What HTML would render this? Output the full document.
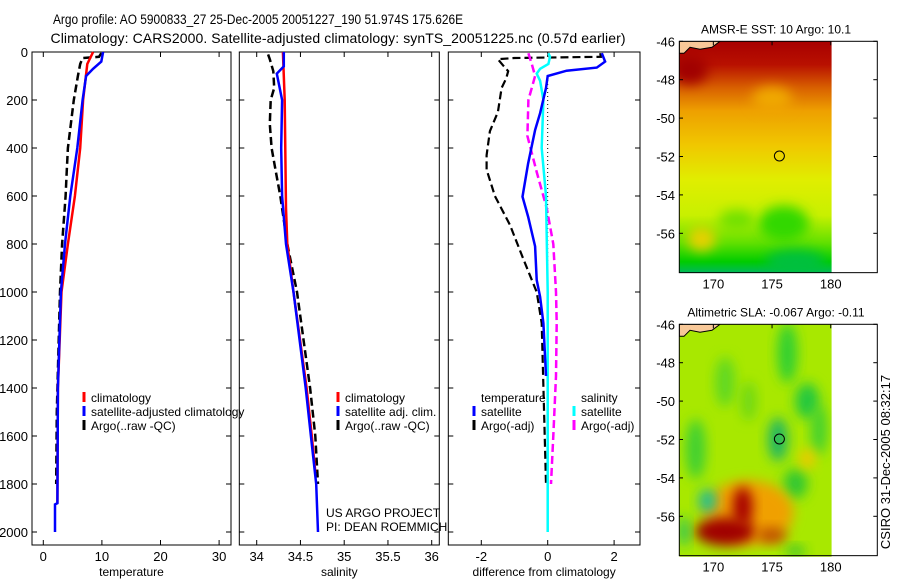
<!DOCTYPE html>
<html><head><meta charset="utf-8"><style>
body{margin:0;background:#fff}
svg{display:block;font-family:"Liberation Sans",sans-serif}
</style></head><body>
<svg id="c" width="900" height="580" viewBox="0 0 900 580">
<defs>
<filter id="bl" x="-50%" y="-50%" width="200%" height="200%"><feGaussianBlur stdDeviation="6"/></filter>
<linearGradient id="sstg" x1="0" y1="0" x2="0" y2="1">
<stop offset="0" stop-color="#a80000"/><stop offset="0.1" stop-color="#b81000"/><stop offset="0.2" stop-color="#d86000"/>
<stop offset="0.3" stop-color="#eea000"/><stop offset="0.45" stop-color="#f0c800"/><stop offset="0.6" stop-color="#e0ee00"/>
<stop offset="0.75" stop-color="#c8f000"/><stop offset="0.87" stop-color="#60e000"/><stop offset="0.95" stop-color="#00cc00"/><stop offset="1" stop-color="#00b860"/>
</linearGradient>
<clipPath id="m1"><rect x="679.3" y="41.3" width="152.4" height="231.4"/></clipPath>
<clipPath id="m2"><rect x="679.3" y="324.3" width="152.4" height="232.4"/></clipPath>
</defs>
<text x="53" y="24" font-size="13.5" lengthAdjust="spacingAndGlyphs" textLength="410">Argo profile: AO 5900833_27 25-Dec-2005 20051227_190 51.974S 175.626E</text>
<text x="338" y="43" font-size="14" text-anchor="middle" textLength="575">Climatology: CARS2000. Satellite-adjusted climatology: synTS_20051225.nc (0.57d earlier)</text>
<g id="g"></g>
</svg>
<script>
// ---- data ----
const depthTicks=[0,200,400,600,800,1000,1200,1400,1600,1800,2000];
const tTicks=[0,10,20,30];
const sTicks=[34,34.5,35,35.5,36];
const dTicks=[-2,0,2];
const climTdep=[0,50,200,400,600,800,1000,1400,1880];
const climT=[8.5,7.5,6.8,6.3,5.4,4.2,3.1,2.5,2.4];
const satTdep=[0,40,70,100,200,400,600,800,1000,1400,1880,1885,2000];
const satT=[10.2,9.9,8.5,7.3,6.7,5.8,4.6,3.7,3.0,2.5,2.4,2.0,2.0];
const argoTdep=[5,20,25,50,100,200,400,500,600,800,1000,1500,1800];
const argoT=[9.9,9.5,6.7,6.3,5.9,5.2,4.2,4.0,3.8,3.2,2.85,2.3,2.2];
const climSdep=[0,200,650,800,1000,1400,1600,1750];
const climS=[34.30,34.32,34.335,34.35,34.42,34.57,34.63,34.67];
const satSdep=[0,60,90,200,400,600,800,1000,1400,1600,1800,2000];
const satS=[34.31,34.31,34.23,34.29,34.28,34.29,34.335,34.42,34.56,34.62,34.68,34.70];
const argoSdep=[10,30,80,150,200,300,400,500,600,800,1000,1400,1600,1800];
const argoS=[34.13,34.15,34.19,34.20,34.16,34.15,34.17,34.22,34.27,34.35,34.46,34.61,34.67,34.70];
const dTsatDep=[5,40,65,78,100,150,255,325,465,603,686,810,950,1020,1130,1350];
const dTsat=[1.63,1.73,1.48,0.57,0.0,-0.05,-0.23,-0.38,-0.59,-0.76,-0.59,-0.38,-0.33,-0.23,-0.13,-0.05];
const dTargoDep=[5,20,25,30,55,80,110,150,250,330,430,490,600,720,860,1000,1130,1800];
const dTargo=[1.58,1.6,-1.0,-1.5,-1.35,-1.19,-1.25,-1.39,-1.5,-1.74,-1.84,-1.84,-1.59,-1.14,-0.74,-0.33,-0.18,-0.05];
const dSsatDep=[5,20,50,70,90,120,200,400,600,1000,2000];
const dSsat=[0.02,0.07,0.02,-0.23,-0.33,-0.23,-0.13,-0.18,-0.05,0.0,0.0];
const dSargoDep=[5,50,100,200,350,500,650,800,1000,1130,1350,1600,1800];
const dSargo=[-0.58,-0.48,-0.38,-0.58,-0.61,-0.33,-0.03,0.17,0.25,0.27,0.25,0.17,0.1];
const latTicks=[-46,-48,-50,-52,-54,-56];
const lonTicks=[170,175,180];
const floatLon=175.626, floatLat=-51.974;

const NS='http://www.w3.org/2000/svg';
const g=document.getElementById('g');
function el(t,a,p){const e=document.createElementNS(NS,t);for(const k in a)e.setAttribute(k,a[k]);(p||g).appendChild(e);return e;}
const Y=d=>52+d*0.24;
const panels=[
 {l:32,r:231,x:v=>43.3+v*5.86,ticks:tTicks,lab:'temperature',name:'temperature'},
 {l:239.3,r:439.3,x:v=>256.7+(v-34)*87.5,ticks:sTicks,lab:'salinity',name:'salinity'},
 {l:448.3,r:640,x:v=>547.7+v*33.2,ticks:dTicks,lab:'difference from climatology',name:'difference'}];
panels.forEach((p,i)=>{
  const f=el('rect',{x:p.l,y:52,width:p.r-p.l,height:493,fill:'none',stroke:'#000','stroke-width':1});
  
  
  depthTicks.forEach(d=>{
    el('line',{x1:p.l,x2:p.l+5,y1:Y(d),y2:Y(d),stroke:'#000'});
    el('line',{x1:p.r,x2:p.r-5,y1:Y(d),y2:Y(d),stroke:'#000'});
    if(i==0){const t=el('text',{x:28,y:Y(d)+5,'font-size':13,'text-anchor':'end'});t.textContent=d;
      
      }
  });
  p.ticks.forEach(v=>{
    const x=p.x(v);
    el('line',{x1:x,x2:x,y1:52,y2:57,stroke:'#000'});
    el('line',{x1:x,x2:x,y1:545,y2:540,stroke:'#000'});
    const t=el('text',{x:x,y:561,'font-size':13,'text-anchor':'middle'});t.textContent=v;
    
    
  });
  const t=el('text',{x:(p.l+p.r)/2,y:576,'font-size':12,'text-anchor':'middle'});t.textContent=p.lab;
  
  
});
function line(p,vals,deps,col,dash,w,name){
  const pts=vals.map((v,k)=>p.x(v).toFixed(1)+','+Y(deps[k]).toFixed(1)).join(' ');
  const e=el('polyline',{points:pts,fill:'none',stroke:col,'stroke-width':w||2.5,'stroke-dasharray':dash||'none'});
  
  
}
const P=panels;
line(P[0],argoT,argoTdep,'#000','8,4',2.5,'argo-temperature-line');
line(P[0],climT,climTdep,'#f00',null,2.5,'climatology-temperature-line');
line(P[0],satT,satTdep,'#00f',null,2.5,'satellite-temperature-line');
line(P[1],argoS,argoSdep,'#000','8,4',2.5,'argo-salinity-line');
line(P[1],climS,climSdep,'#f00',null,2.5,'climatology-salinity-line');
line(P[1],satS,satSdep,'#00f',null,2.5,'satellite-salinity-line');
el('line',{x1:P[2].x(0),x2:P[2].x(0),y1:Y(100),y2:Y(1800),stroke:'#000','stroke-dasharray':'1,3'});
line(P[2],dTargo,dTargoDep,'#000','8,4',2.2,'argo-temp-diff-line');
line(P[2],dSargo,dSargoDep,'#f0f','8,4',2.5,'argo-sal-diff-line');
line(P[2],dSsat,dSsatDep,'#0ff',null,2.5,'satellite-sal-diff-line');
line(P[2],dTsat,dTsatDep,'#00f',null,2.5,'satellite-temp-diff-line');
function leg(x,y,col,txt,name){
  if(col) el('line',{x1:x,x2:x,y1:y-10,y2:y,stroke:col,'stroke-width':3});
  const t=el('text',{x:x+7,y:y,'font-size':12});t.textContent=txt;
  
  
}
leg(84,402,'#f00','climatology','legend-climatology');
leg(84,416,'#00f','satellite-adjusted climatology','legend-satellite-adjusted');
leg(84,430,'#000','Argo(..raw -QC)','legend-argo');
leg(338,402,'#f00','climatology','legend-climatology-sal');
leg(338,416,'#00f','satellite adj. clim.','legend-satellite-sal');
leg(338,430,'#000','Argo(..raw -QC)','legend-argo-sal');
leg(474,402,null,'temperature','legend-temperature-header');
leg(474,416,'#00f','satellite','legend-temp-satellite');
leg(474,430,'#000','Argo(-adj)','legend-temp-argo');
leg(574,402,null,'salinity','legend-salinity-header');
leg(574,416,'#0ff','satellite','legend-sal-satellite');
leg(574,430,'#f0f','Argo(-adj)','legend-sal-argo');
leg(319,517,null,'US ARGO PROJECT','project-label');
leg(319,531,null,'PI: DEAN ROEMMICH','pi-label');

// ---- maps ----
const MX=lon=>679.3+(lon-167.1)*11.74;
function map(top,title,name,kind){
  const MY=lat=>top+(-46-lat)*19.2;
  const gg=el('g',{'clip-path':'url(#'+(kind?'m2':'m1')+')'});
  
  
  if(!kind){
    el('rect',{x:679.3,y:top,width:152.4,height:232,fill:'url(#sstg)'},gg);
    [[176,-55.5,25,18,'#30d800'],[172,-55.3,18,10,'#70e000'],[169,-56.3,14,12,'#e8d000'],[177,-57.5,30,12,'#00c040'],[168,-47.5,18,14,'#a00000'],[175,-49,20,12,'#f0a800']].forEach(b=>
      el('ellipse',{cx:MX(b[0]),cy:MY(b[1]),rx:b[2],ry:b[3],fill:b[4],filter:'url(#bl)'},gg));
  }else{
    el('rect',{x:679.3,y:top,width:152.4,height:233,fill:'#a8e800'},gg);
    [[176.3,-47.5,10,30,'#30d030'],[171,-49,10,25,'#60d820'],[178,-50,12,18,'#20c840'],[175.5,-52,10,22,'#20b860'],[168.5,-52.5,10,30,'#40d030'],[177,-54.3,12,15,'#30c830'],[179,-51.5,8,25,'#40d030'],[173,-50,8,20,'#70d818'],
     [173,-55.8,45,32,'#f0a000'],[178,-53,8,10,'#f0c800'],[171,-56.8,30,14,'#a00000'],[172.5,-55.5,10,20,'#a80000'],[175,-57,15,8,'#c05000'],[169.5,-55.2,9,12,'#20c090'],[177,-57.8,10,5,'#30c030'],[167.5,-56.8,5,15,'#20c060']].forEach(b=>
      el('ellipse',{cx:MX(b[0]),cy:MY(b[1]),rx:b[2],ry:b[3],fill:b[4],filter:'url(#bl)'},gg));
  }
  el('path',{d:`M679.3 ${top} L720 ${top} L712 ${top+6} L700 ${top+8} L690 ${top+6} L684 ${top+12} L679.3 ${top+12} Z`,fill:'#f8c898',stroke:'#000','stroke-width':1},gg);
  const c=el('circle',{cx:MX(floatLon),cy:MY(floatLat),r:5,fill:'none',stroke:'#000'});
  
  
  const f=el('rect',{x:679.3,y:top,width:198,height:MY(-58.05)-top,fill:'none',stroke:'#000'});
  
  
  latTicks.forEach(l=>{
    el('line',{x1:679.3,x2:683,y1:MY(l),y2:MY(l),stroke:'#000'});
    el('line',{x1:877.3,x2:873.3,y1:MY(l),y2:MY(l),stroke:'#000'});
    const t=el('text',{x:675,y:MY(l)+5,'font-size':13,'text-anchor':'end'});t.textContent=l;
    
    
  });
  lonTicks.forEach(l=>{
    el('line',{x1:MX(l),x2:MX(l),y1:top,y2:top+4,stroke:'#000'});
    const t=el('text',{x:MX(l),y:MY(-58.05)+16,'font-size':13,'text-anchor':'middle'});t.textContent=l;
    
    
  });
  const t=el('text',{x:776,y:top-8,'font-size':12,'text-anchor':'middle'});t.textContent=title;
  
  
}
map(41.3,'AMSR-E SST: 10 Argo: 10.1','sst-map',0);
map(324.3,'Altimetric SLA: -0.067 Argo: -0.11','sla-map',1);
const cs=el('text',{x:0,y:0,'font-size':13,'text-anchor':'middle',transform:'translate(890,462) rotate(-90)'});
cs.textContent='CSIRO 31-Dec-2005 08:32:17';


</script>
</body></html>
